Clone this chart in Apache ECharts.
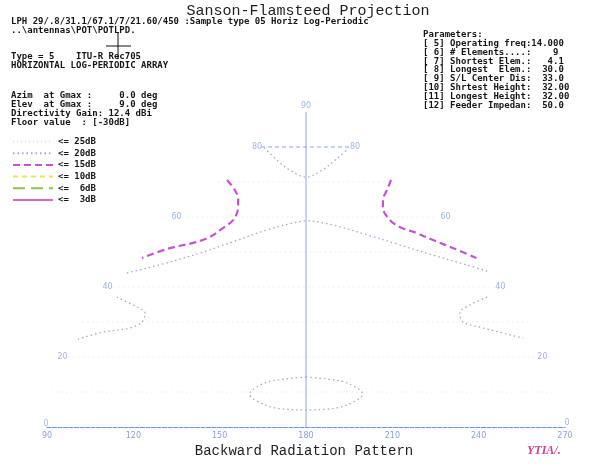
<!DOCTYPE html>
<html>
<head>
<meta charset="utf-8">
<script src="https://cdn.jsdelivr.net/npm/echarts@6/dist/echarts.min.js"></script>
<style>
html, body { margin: 0; padding: 0; background: #ffffff; }
#chart { width: 589px; height: 472px; }
</style>
</head>
<body>
<div id="chart"></div>
<script>
// ---- Pattern data: [azimuth deg, elevation deg] along each gain contour ----
const azimuthTicks = [90, 120, 150, 180, 210, 240, 270];
const elevationLabels = [0, 20, 40, 60, 80, 90];
const faintParallels = [10, 20, 30, 40, 50, 60, 70];
const markedParallels = [80];
const centralMeridian = 180;

const contour20TopArc = [[98, 79.8], [137, 76.3], [160.4, 73.4], [180, 71.4], [199.6, 73.4], [223, 76.3], [262, 79.6]];
const contour20Upper = [[93.5, 44.0], [109.3, 46.9], [123.1, 49.7], [137.9, 52.9], [155.5, 56.3], [171.4, 58.3], [180, 58.9],
  [197.6, 57.7], [216.9, 54.9], [233.1, 52.0], [247.4, 49.1], [260.9, 46.3], [269, 44.3]];
const contour20LeftLobe = [[97.6, 37.1], [108.9, 34.3], [113.6, 32.6], [114.2, 30.0], [110.5, 28.3], [100.8, 27.1], [92.5, 25.1]];
const contour20RightLobe = [[258.9, 37.1], [249.5, 34.9], [243.5, 32.6], [243.0, 30.0], [249.9, 28.3], [263.5, 25.4]];
const contour20MainLobe = [[180, 14.3], [187.5, 13.7], [194.6, 12.6], [199.9, 9.4], [194.3, 6.3], [187.3, 5.1], [180, 4.9],
  [172.7, 5.1], [165.7, 6.3], [160.1, 9.4], [165.4, 12.6], [172.5, 13.7], [180, 14.3]];
const contour15Left = [[97.4, 70.6], [114.9, 67.7], [124.4, 64.9], [128.7, 62.6], [130.6, 59.1], [127.3, 56.9],
  [122.8, 54.3], [115.4, 52.6], [104.6, 51.1], [94.3, 48.3]];
const contour15Right = [[269, 70.6], [254.2, 67.7], [243, 64.9], [238.1, 62.6], [236.9, 59.1], [240.2, 57.1],
  [247.9, 55.4], [254, 53.4], [261.5, 51.1], [269, 48.3]];

const levelNames = ['<= 25dB', '<= 20dB', '<= 15dB', '<= 10dB', '<=  6dB', '<=  3dB'];
const levelColors = ['#efe9a8', '#a9a6d6', '#c452d2', '#e6e65a', '#8fc24a', '#de68c0'];
const levelDash = [[1, 3], [1.5, 3], [7, 4], [5, 4], [12, 6], null];
const levelWidth = [1, 1.3, 2.2, 1.5, 2, 2];

// ---- Sanson-Flamsteed (sinusoidal) projection, centred on azimuth 180 ----
function project(az, el) {
  return [centralMeridian + (az - centralMeridian) * Math.cos(el * Math.PI / 180), el];
}
function projectPath(path) { return path.map(p => project(p[0], p[1])); }

function levelStyle(levelIndex) {
  return {
    lineStyle: { color: levelColors[levelIndex], width: levelWidth[levelIndex], type: levelDash[levelIndex] || 'solid' },
    itemStyle: { color: levelColors[levelIndex] }
  };
}
function contourSeries(levelIndex, path) {
  return Object.assign({
    type: 'line', name: levelNames[levelIndex], data: projectPath(path),
    smooth: 0.35, symbol: 'none', silent: true, z: 3
  }, levelStyle(levelIndex));
}
function emptyLevel(levelIndex) {
  return Object.assign({ type: 'line', name: levelNames[levelIndex], data: [], symbol: 'none' }, levelStyle(levelIndex));
}

const graticule = [];
faintParallels.forEach(lat => graticule.push({
  type: 'line', data: [project(90, lat), project(270, lat)], symbol: 'none', silent: true, z: 1,
  lineStyle: { color: '#efeee8', width: 1, type: [2, 3] }
}));
markedParallels.forEach(lat => graticule.push({
  type: 'line', data: [project(90, lat), project(270, lat)], symbol: 'none', silent: true, z: 2,
  lineStyle: { color: '#93a9ea', width: 1, type: [4, 3] }
}));
graticule.push({
  type: 'line', data: [project(centralMeridian, 0), project(centralMeridian, 90)], symbol: 'none', silent: true, z: 2,
  lineStyle: { color: '#8ea5ea', width: 1 }
});

// Elevation labels sit on the limb of the projection (azimuth 90 and 270)
const limbOffsets = { 20: [0, -7], 40: [0, -4], 60: [0, 10], 80: [-4, 4] };
const limbLabels = [];
elevationLabels.forEach(lat => {
  if (lat === 90) {
    limbLabels.push({ value: [...project(180, 90), lat], label: { position: 'top', distance: 2 } });
  } else if (lat === 0) {
    limbLabels.push({ value: [...project(90, 0), lat], label: { position: 'left', distance: 0, offset: [2, -3] } });
    limbLabels.push({ value: [...project(270, 0), lat], label: { position: 'right', distance: 0, offset: [-1, -4] } });
  } else {
    limbLabels.push({ value: [...project(90, lat), lat], label: { position: 'inside', offset: [limbOffsets[lat][0], 0] } });
    limbLabels.push({ value: [...project(270, lat), lat], label: { position: 'inside', offset: [limbOffsets[lat][1], 0] } });
  }
});

const monoSmall = 'bold 9px "DejaVu Sans Mono", monospace';
function textLines(x, y0, step, lines) {
  return lines.map((t, i) => ({
    type: 'text', left: x, top: y0 + i * step, silent: true,
    style: { text: t, font: monoSmall, fill: '#161616' }
  }));
}

const headerLines = ['LPH 29/.8/31.1/67.1/7/21.60/450 :Sample type 05 Horiz Log-Periodic', '..\\antennas\\POT\\POTLPD.'];
const typeLines = ['Type = 5    ITU-R Rec705', 'HORIZONTAL LOG-PERIODIC ARRAY'];
const gainLines = ['Azim  at Gmax :     0.0 deg', 'Elev  at Gmax :     9.0 deg', 'Directivity Gain: 12.4 dBi', 'Floor value  : [-30dB]'];
const paramLines = ['Parameters:', '[ 5] Operating freq:14.000', '[ 6] # Elements....:    9', '[ 7] Shortest Elem.:   4.1',
  '[ 8] Longest  Elem.:  30.0', '[ 9] S/L Center Dis:  33.0', '[10] Shrtest Height:  32.00', '[11] Longest Height:  32.00',
  '[12] Feeder Impedan:  50.0'];

const chart = echarts.init(document.getElementById('chart'), null, { renderer: 'canvas' });
chart.setOption({
  backgroundColor: '#ffffff',
  animation: false,
  title: [
    { text: 'Sanson-Flamsteed Projection', left: 308, top: 4, textAlign: 'center', padding: 0,
      textStyle: { fontFamily: 'Liberation Mono', fontSize: 15, fontWeight: 'normal', color: '#1e1e1e' } },
    { text: 'Backward Radiation Pattern', left: 304, top: 444, textAlign: 'center', padding: 0,
      textStyle: { fontFamily: 'Liberation Mono', fontSize: 14, fontWeight: 'normal', color: '#1e1e1e' } }
  ],
  grid: { left: 47, right: 24, top: 112, bottom: 45, containLabel: false },
  legend: {
    data: levelNames, orient: 'vertical', left: 12, top: 137, itemWidth: 40, itemHeight: 8, itemGap: 2.7,
    padding: 0, selectedMode: false,
    itemStyle: { color: 'rgba(0,0,0,0)', borderWidth: 0, borderColor: 'rgba(0,0,0,0)' },
    textStyle: { fontFamily: 'DejaVu Sans Mono', fontWeight: 'bold', fontSize: 9, color: '#161616' }
  },
  xAxis: {
    type: 'value', min: 90, max: 270, interval: 30,
    axisLine: { show: true, lineStyle: { color: '#7090e0', width: 1.2, type: [4, 1.5] } },
    axisTick: { show: false },
    splitLine: { show: false },
    axisLabel: { color: '#8aa0e2', fontSize: 8, fontFamily: 'DejaVu Sans', margin: 5 }
  },
  yAxis: {
    type: 'value', min: 0, max: 90, show: false, splitLine: { show: false }
  },
  series: [
    ...graticule,
    {
      type: 'scatter', data: limbLabels, symbolSize: 1, silent: true, z: 4,
      itemStyle: { color: 'rgba(0,0,0,0)' },
      label: { show: true, formatter: p => String(p.value[2]), color: '#8ba2e4', fontSize: 8, fontFamily: 'DejaVu Sans' }
    },
    emptyLevel(0),
    contourSeries(1, contour20TopArc),
    contourSeries(1, contour20Upper),
    contourSeries(1, contour20LeftLobe),
    contourSeries(1, contour20RightLobe),
    contourSeries(1, contour20MainLobe),
    contourSeries(2, contour15Left),
    contourSeries(2, contour15Right),
    emptyLevel(3),
    emptyLevel(4),
    emptyLevel(5)
  ],
  graphic: [
    ...textLines(11, 17, 9, headerLines),
    ...textLines(11, 52, 9, typeLines),
    ...textLines(11, 91, 9, gainLines),
    ...textLines(423, 30, 8.9, paramLines),
    { type: 'line', silent: true, shape: { x1: 118, y1: 33, x2: 118, y2: 58 }, style: { stroke: '#111', lineWidth: 1 } },
    { type: 'line', silent: true, shape: { x1: 106, y1: 46, x2: 131, y2: 46 }, style: { stroke: '#111', lineWidth: 1 } },
    { type: 'text', left: 527, top: 445, silent: true,
      style: { text: 'YTIA/.', font: 'italic bold 12px "Liberation Serif", serif', fill: '#d23f8c' } }
  ]
});
</script>
</body>
</html>
